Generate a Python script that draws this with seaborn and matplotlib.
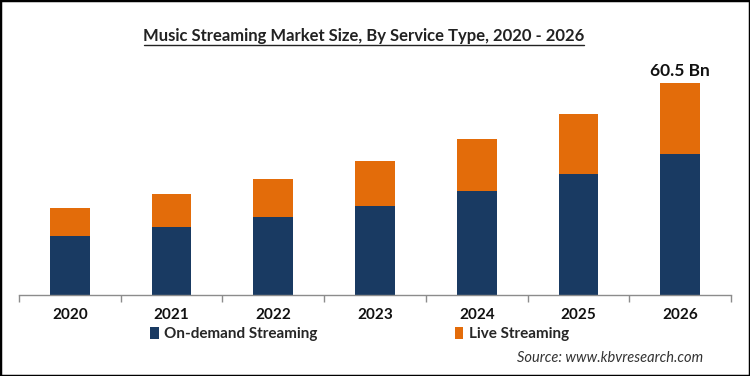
import matplotlib
matplotlib.use("Agg")
import matplotlib.pyplot as plt
import seaborn as sns
import pandas as pd
from matplotlib.patches import Rectangle, Patch
from matplotlib.ticker import FixedLocator

years = ["2020", "2021", "2022", "2023", "2024", "2025", "2026"]
on_demand = [16.8, 19.4, 22.3, 25.5, 29.8, 34.6, 40.2]
live = [7.9, 9.3, 10.7, 12.8, 14.7, 17.2, 20.3]
top_label = "60.5 Bn"

NAVY = "#193a62"
ORANGE = "#e36c0a"

sns.set_theme(style="white")
plt.rcParams["font.family"] = ["Lato", "DejaVu Sans"]

df = pd.DataFrame({"year": years, "on_demand": on_demand, "live": live})
df["total"] = df["on_demand"] + df["live"]

fig = plt.figure(figsize=(7.5, 3.76), dpi=100)
ax = fig.add_axes([19 / 750, 1 - 294.5 / 376, (731 - 19) / 750, (294.5 - 60) / 376])

sns.barplot(data=df, x="year", y="total", color=ORANGE, width=0.39,
            saturation=1, ax=ax, edgecolor="none")
sns.barplot(data=df, x="year", y="on_demand", color=NAVY, width=0.39,
            saturation=1, ax=ax, edgecolor="none")

ax.set_ylim(0, 67.2)
ax.set_xlim(-0.5, len(years) - 0.5)
ax.set_xlabel("")
ax.set_ylabel("")
ax.set_yticks([])
for s in ["top", "left", "right"]:
    ax.spines[s].set_visible(False)
ax.spines["bottom"].set_color("#8c8c8c")
ax.spines["bottom"].set_linewidth(1)

ax.tick_params(axis="x", which="major", length=0, pad=10, labelsize=11)
for lbl in ax.get_xticklabels():
    lbl.set_fontweight("bold")
    lbl.set_color("#111111")
ax.xaxis.set_minor_locator(FixedLocator([i - 0.5 for i in range(len(years) + 1)]))
ax.tick_params(axis="x", which="minor", bottom=True, length=5, width=1, color="#8c8c8c", direction="out")

labels = [""] * (len(years) - 1) + [top_label]
ax.bar_label(ax.containers[0], labels=labels, padding=3, fontsize=12.5,
             fontweight="bold", color="#111111")

fig.text(364 / 750, 1 - 36 / 376, "Music Streaming Market Size, By Service Type, 2020 - 2026",
         ha="center", va="center", fontsize=12, fontweight="bold", color="#222222")
# underline
fig.add_artist(plt.Line2D([144 / 750, 584 / 750], [1 - 45 / 376, 1 - 45 / 376],
                          color="#222222", linewidth=1))

handles = [Patch(facecolor=NAVY, edgecolor="none"), Patch(facecolor=ORANGE, edgecolor="none")]
fig.legend(handles, ["On-demand Streaming", "Live Streaming"], ncol=2,
           loc="center left", bbox_to_anchor=(141 / 750, 1 - 334 / 376),
           frameon=False, handlelength=0.55, handleheight=0.85,
           handletextpad=0.35, columnspacing=9.0, borderpad=0.1,
           prop={"weight": "bold", "size": 11})

fig.text(703 / 750, 1 - 358 / 376, "Source: www.kbvresearch.com", ha="right", va="center",
         fontsize=10.5, style="italic", color="#333333")

fig.add_artist(Rectangle((0, 0), 1, 1, transform=fig.transFigure, fill=False,
                         edgecolor="black", linewidth=2.5))

fig.savefig("out.png", dpi=100)
